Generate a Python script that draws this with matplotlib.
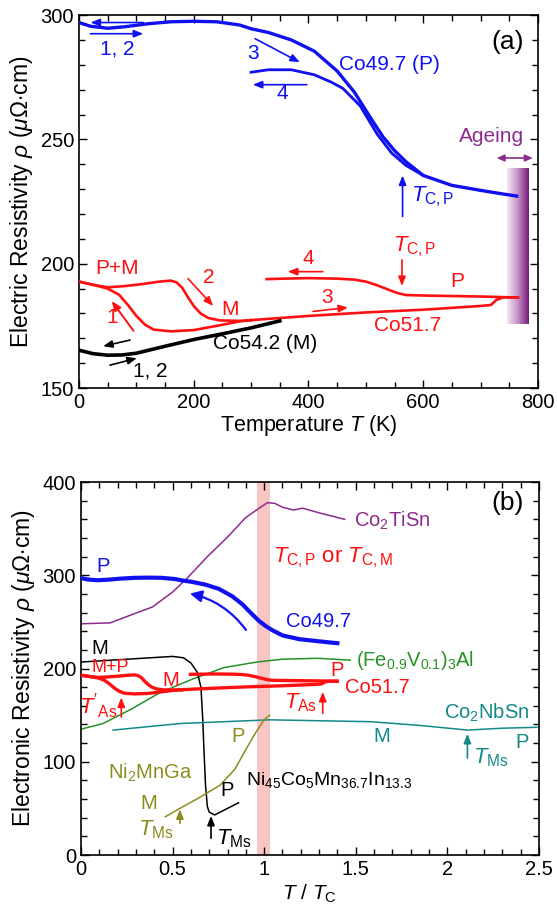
import matplotlib
matplotlib.use('Agg')
import matplotlib.pyplot as plt
import numpy as np
from matplotlib.colors import LinearSegmentedColormap
from matplotlib.patches import FancyArrowPatch
from matplotlib.ticker import MultipleLocator

plt.rcParams['font.family'] = ['Liberation Sans', 'DejaVu Sans']
plt.rcParams['mathtext.fontset'] = 'custom'
plt.rcParams['mathtext.rm'] = 'Liberation Sans'
plt.rcParams['mathtext.it'] = 'Liberation Sans:italic'
plt.rcParams['mathtext.bf'] = 'Liberation Sans:bold'

BLUE = '#1010f0'
RED = '#ff1010'
PURPLE = '#8e2a8e'
GREEN = '#259225'
TEAL = '#138a8a'
OLIVE = '#8c8c1e'

# ---- panel (a) data: temperature (K) and resistivity (uOhm cm)
co497_T = [0, 20, 50, 80, 120, 160, 200, 240, 280, 300, 330, 370, 410, 450, 480,
           510, 530, 550, 570, 600, 650, 700, 740, 763]
co497_r = [297, 295.5, 294.7, 295.3, 296.5, 297.3, 297.5, 297.3, 296, 294.5, 293,
           290, 285.5, 277.5, 269, 258, 251, 245.5, 241, 235.5, 231.5, 229.5, 228, 227.2]
co497_c4_T = [300, 330, 370, 410, 440, 460, 490, 520, 545, 570, 600]
co497_c4_r = [277, 278, 278, 276, 273, 270.5, 263.5, 252, 244.5, 239.5, 235.5]

co517_c1_T = [0, 25, 50, 70, 85, 100, 115, 130, 160, 200, 240, 280, 300]
co517_c1_r = [192.8, 191.5, 190, 187.5, 183.5, 179, 175.5, 173.5, 172.8, 173.3, 175,
              176.8, 177.3]
co517_h2_T = [0, 25, 50, 80, 110, 140, 160, 170, 180, 190, 200, 212, 225, 245, 280, 300]
co517_h2_r = [192.8, 191.5, 190.5, 191, 191.8, 192.8, 193.2, 192.5, 190.3, 186.5, 183,
              180, 178.2, 177.2, 177, 177.3]
co517_h3_T = [300, 400, 500, 600, 700, 718, 728, 740, 765]
co517_h3_r = [177.3, 179, 180.4, 181.5, 183, 183.4, 185.5, 186.5, 186.4]
co517_c4_T = [765, 700, 650, 600, 570, 555, 540, 520, 500, 480, 450, 400, 360, 327]
co517_c4_r = [186.4, 186.8, 187, 187.2, 187.4, 188.2, 189.5, 191.3, 192.8, 193.6, 194,
              194.2, 194, 193.8]

co542_T = [0, 25, 50, 75, 100, 150, 200, 250, 300, 350]
co542_r = [165.2, 163.8, 163.2, 163.3, 164, 166.8, 169.5, 171.8, 174.2, 177]

# Curie temperatures used for panel (b)
TC_CO497 = 545
TC_CO517 = 547

# ---- panel (b) data: T/Tc and resistivity
tisn_x = [0, 0.16, 0.28, 0.39, 0.5, 0.58, 0.69, 0.8, 0.9, 0.98, 1.02, 1.06, 1.1, 1.16,
          1.21, 1.3, 1.44]
tisn_r = [248, 249, 258, 266, 282, 297, 320, 341, 362, 373, 378, 377, 373, 370, 372,
          367, 360]

fev_x = [0, 0.12, 0.27, 0.43, 0.6, 0.78, 0.96, 1.1, 1.29, 1.47]
fev_r = [135, 141, 156, 174, 188, 201, 207, 210, 211, 209]

ni_x = [0, 0.25, 0.5, 0.56, 0.6, 0.635, 0.655, 0.665, 0.672, 0.68, 0.69, 0.70, 0.73,
        0.86]
ni_r = [207, 210, 213, 211.5, 206, 196, 180, 145, 110, 75, 52, 46, 43, 56]

nbsn_x = [0.175, 0.54, 1.03, 1.58, 1.85, 2.11, 2.3, 2.49]
nbsn_r = [134, 141, 145, 143, 139, 134, 136, 137]

nmg_x = [0.46, 0.54, 0.65, 0.76, 0.84, 0.9, 0.95, 1.0, 1.03]
nmg_r = [41, 50, 62, 75, 92, 113, 130, 145, 150]


def arrow(ax, start, end, color, lw=1.2):
    ax.annotate('', xy=end, xytext=start,
                arrowprops=dict(arrowstyle='-|>,head_length=0.55,head_width=0.22',
                                color=color, lw=lw, shrinkA=0, shrinkB=0))


def style(ax):
    ax.tick_params(which='both', direction='in', top=True, right=True,
                   labelsize=14.5, width=1)
    ax.tick_params(which='major', length=6)
    ax.tick_params(which='minor', length=4)
    for s in ax.spines.values():
        s.set_linewidth(1.2)


fig = plt.figure(figsize=(5.57, 9.13), dpi=100)

# ================= panel (a)
ax = fig.add_axes([0.1418, 0.575, 0.824, 0.4085])

cmap = LinearSegmentedColormap.from_list('age', ['#f4e8f4', '#c58ec5', '#7a1a7a'])
grad = np.linspace(0, 1, 100).reshape(1, -1)
ax.imshow(grad, cmap=cmap, extent=[746, 784, 175.6, 238], aspect='auto', zorder=1)

ax.plot(co497_T, co497_r, color=BLUE, lw=2.4, zorder=3)
ax.plot(co497_c4_T, co497_c4_r, color=BLUE, lw=2.0, zorder=3)
ax.plot(co517_c1_T, co517_c1_r, color=RED, lw=1.9, zorder=3)
ax.plot(co517_h2_T, co517_h2_r, color=RED, lw=1.9, zorder=3)
ax.plot(co517_h3_T, co517_h3_r, color=RED, lw=1.9, zorder=3)
ax.plot(co517_c4_T, co517_c4_r, color=RED, lw=1.9, zorder=3)
ax.plot(co542_T, co542_r, color='black', lw=2.6, zorder=4)

ax.set_xlim(0, 800)
ax.set_ylim(150, 300)
ax.xaxis.set_major_locator(MultipleLocator(200))
ax.xaxis.set_minor_locator(MultipleLocator(50))
ax.yaxis.set_major_locator(MultipleLocator(50))
ax.yaxis.set_minor_locator(MultipleLocator(10))
style(ax)
ax.set_xlabel(r'Temperature $T$ (K)', fontsize=15.5, labelpad=1)
ax.set_ylabel(r'Electric Resistivity $\rho$ ($\mu\Omega$$\cdot$cm)', fontsize=16.5,
              labelpad=4)

fs = 15
# blue annotations
arrow(ax, (112, 297), (20, 297), BLUE)
arrow(ax, (20, 292.5), (112, 292.5), BLUE)
ax.text(66, 286.5, '1, 2', color=BLUE, fontsize=fs, ha='center', va='center')
ax.text(303, 284.5, '3', color=BLUE, fontsize=fs, ha='center', va='center')
arrow(ax, (307, 290.5), (385, 281), BLUE)
arrow(ax, (397, 272), (303, 272), BLUE)
ax.text(354, 268.5, '4', color=BLUE, fontsize=fs, ha='center', va='center')
ax.text(542, 280, 'Co49.7 (P)', color=BLUE, fontsize=fs, ha='center', va='center')
arrow(ax, (564, 219), (564, 235.5), BLUE)
ax.text(578, 227, r'$T_{\rm C,P}$', color=BLUE, fontsize=16, ha='left', va='center')
ax.text(748, 289, '(a)', fontsize=19, ha='center', va='center')
ax.text(719, 251, 'Ageing', color=PURPLE, fontsize=fs, ha='center', va='center')
ax.annotate('', xy=(791, 242.5), xytext=(728, 242.5),
            arrowprops=dict(arrowstyle='<|-|>,head_length=0.45,head_width=0.2',
                            color=PURPLE, lw=1.2, shrinkA=0, shrinkB=0))

# red annotations
ax.text(66, 198, 'P+M', color=RED, fontsize=fs, ha='center', va='center')
ax.text(226, 194.5, '2', color=RED, fontsize=fs, ha='center', va='center')
arrow(ax, (190, 194), (234, 183), RED)
ax.text(263, 181.5, 'M', color=RED, fontsize=fs, ha='center', va='center')
ax.text(58, 178.5, '1', color=RED, fontsize=fs, ha='center', va='center')
arrow(ax, (95, 173), (57, 185), RED, lw=1.4)
arrow(ax, (425, 196.8), (364, 196.8), RED)
ax.text(400, 202, '4', color=RED, fontsize=fs, ha='center', va='center')
arrow(ax, (408, 180.8), (469, 182.4), RED)
ax.text(432, 186.3, '3', color=RED, fontsize=fs, ha='center', va='center')
ax.text(585, 207, r'$T_{\rm C,P}$', color=RED, fontsize=16, ha='center', va='center')
arrow(ax, (563, 201.5), (563, 191), RED)
ax.text(660, 193, 'P', color=RED, fontsize=fs, ha='center', va='center')
ax.text(573, 175, 'Co51.7', color=RED, fontsize=fs, ha='center', va='center')

# black annotations
arrow(ax, (89, 169.3), (42, 166.8), 'black')
arrow(ax, (54, 159.2), (101, 162), 'black')
ax.text(124, 157, '1, 2', fontsize=fs, ha='center', va='center')
ax.text(234, 168, 'Co54.2 (M)', fontsize=fs, ha='left', va='center')

# ================= panel (b)
bx = fig.add_axes([0.1454, 0.0635, 0.822, 0.4085])
bx.axvspan(0.96, 1.03, color='#f9c4c4', lw=0, zorder=0)

bx.plot(tisn_x, tisn_r, color=PURPLE, lw=1.1, zorder=2)
bx.plot(fev_x, fev_r, color=GREEN, lw=1.1, zorder=2)
bx.plot(ni_x, ni_r, color='black', lw=1.1, zorder=2)
bx.plot(nbsn_x, nbsn_r, color=TEAL, lw=1.1, zorder=2)
bx.plot(nmg_x, nmg_r, color=OLIVE, lw=1.1, zorder=2)
bx.plot(np.array(co497_T) / TC_CO497, co497_r, color=BLUE, lw=3.0, zorder=3)
for tt, rr in [(co517_c1_T, co517_c1_r), (co517_h2_T, co517_h2_r),
               (co517_h3_T, co517_h3_r), (co517_c4_T, co517_c4_r)]:
    bx.plot(np.array(tt) / TC_CO517, rr, color=RED, lw=2.4, zorder=3)

bx.set_xlim(0, 2.5)
bx.set_ylim(0, 400)
bx.xaxis.set_major_locator(MultipleLocator(0.5))
bx.xaxis.set_minor_locator(MultipleLocator(0.1))
bx.yaxis.set_major_locator(MultipleLocator(100))
bx.yaxis.set_minor_locator(MultipleLocator(20))
bx.xaxis.set_major_formatter(plt.FuncFormatter(lambda v, p: '%g' % v))
style(bx)
bx.set_xlabel(r'$T$ / $T_{\rm C}$', fontsize=15, labelpad=3)
bx.set_ylabel(r'Electronic Resistivity $\rho$ ($\mu\Omega$$\cdot$cm)', fontsize=16.5,
              labelpad=4)

fs = 14.5
bx.text(2.33, 378, '(b)', fontsize=19, ha='center', va='center')
bx.text(1.49, 358, r'Co$_2$TiSn', color=PURPLE, fontsize=fs, ha='left', va='center')
bx.text(1.05, 319, r'$T_{\rm C,P}$ or $T_{\rm C,M}$', color=RED, fontsize=16,
        ha='left', va='center')
bx.text(0.12, 309, 'P', color=BLUE, fontsize=fs, ha='center', va='center')
bx.text(1.12, 250, 'Co49.7', color=BLUE, fontsize=fs, ha='left', va='center')
bx.add_patch(FancyArrowPatch((0.91, 239), (0.58, 281), connectionstyle='arc3,rad=0.2',
                             arrowstyle='-|>,head_length=7,head_width=3.5',
                             color=BLUE, lw=1.6, zorder=4))
bx.text(1.5, 209, r'(Fe$_{0.9}$V$_{0.1}$)$_3$Al', color=GREEN, fontsize=fs,
        ha='left', va='center')
bx.text(0.1, 221, 'M', fontsize=fs, ha='center', va='center')
bx.text(0.16, 201, 'M+P', color=RED, fontsize=13, ha='center', va='center')
bx.text(0.49, 187, 'M', color=RED, fontsize=fs, ha='center', va='center')
bx.text(0.2, 160, r"$T'_{\rm As}$", color=RED, fontsize=16, ha='right', va='center')
arrow(bx, (0.22, 148), (0.22, 169), RED)
bx.text(1.40, 198, 'P', color=RED, fontsize=fs, ha='center', va='center')
bx.text(1.44, 180, 'Co51.7', color=RED, fontsize=fs, ha='left', va='center')
bx.text(1.29, 163, r'$T_{\rm As}$', color=RED, fontsize=16, ha='right', va='center')
arrow(bx, (1.32, 152), (1.32, 175), RED)
bx.text(1.98, 153, r'Co$_2$NbSn', color=TEAL, fontsize=fs, ha='left', va='center')
bx.text(1.64, 127, 'M', color=TEAL, fontsize=fs, ha='center', va='center')
bx.text(2.41, 121, 'P', color=TEAL, fontsize=fs, ha='center', va='center')
arrow(bx, (2.11, 104), (2.11, 130), TEAL)
bx.text(2.14, 104, r'$T_{\rm Ms}$', color=TEAL, fontsize=16, ha='left', va='center')
bx.text(0.38, 88, r'Ni$_2$MnGa', color=OLIVE, fontsize=fs, ha='center', va='center')
bx.text(0.37, 55, 'M', color=OLIVE, fontsize=fs, ha='center', va='center')
bx.text(0.86, 127, 'P', color=OLIVE, fontsize=fs, ha='center', va='center')
arrow(bx, (0.54, 34), (0.54, 49), OLIVE)
bx.text(0.41, 27, r'$T_{\rm Ms}$', color=OLIVE, fontsize=16, ha='center', va='center')
bx.text(0.80, 69, 'P', fontsize=fs, ha='center', va='center')
bx.text(0.90, 80, r'Ni$_{45}$Co$_5$Mn$_{36.7}$In$_{13.3}$', fontsize=14,
        ha='left', va='center')
arrow(bx, (0.71, 18), (0.71, 42), 'black')
bx.text(0.735, 17, r'$T_{\rm Ms}$', fontsize=16, ha='left', va='center')

fig.savefig('out.png', dpi=100)
